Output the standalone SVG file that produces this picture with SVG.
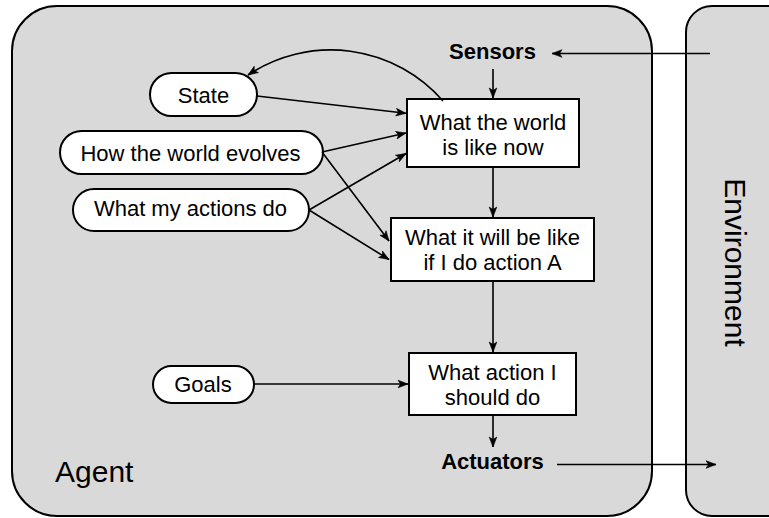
<svg xmlns="http://www.w3.org/2000/svg" width="769" height="518" viewBox="0 0 769 518">
<style>
.frame{fill:#d9d9d9;stroke:#000;stroke-width:2}
.pill,.box{fill:#fff;stroke:#000;stroke-width:2}
.t{font-family:"Liberation Sans",Arial,Helvetica,sans-serif;font-size:22px;fill:#000;text-anchor:middle}
.b{font-weight:bold}
.conn{fill:none;stroke:#000;stroke-width:1.6;marker-end:url(#arr)}
</style>
<defs>
<marker id="arr" viewBox="-11 -5 12 10" refX="0" refY="0" markerWidth="12" markerHeight="10" markerUnits="userSpaceOnUse" orient="auto">
<path d="M0,0 L-10,-3.8 L-7.5,0 L-10,3.8 Z" fill="#000" stroke="#000" stroke-width="0.6" stroke-linejoin="miter"/>
</marker>
</defs>
<g id="agent">
<rect class="frame" x="12" y="6" width="640" height="510" rx="45" ry="45"/>
<text class="t" x="55" y="482" style="font-size:30px;text-anchor:start">Agent</text>
</g>
<g id="environment">
<rect class="frame" x="686" y="6" width="130" height="510" rx="26" ry="26"/>
<text class="t" transform="translate(725,262.5) rotate(90)" x="0" y="0" style="font-size:30px">Environment</text>
</g>
<g id="sensors">
<text class="t b" x="492.5" y="58.5">Sensors</text>
</g>
<g id="actuators">
<text class="t b" x="492.5" y="468.5">Actuators</text>
</g>
<g id="state">
<rect class="pill" x="150" y="73" width="107" height="43" rx="21.5" ry="21.5"/>
<text class="t" x="203.5" y="102.5">State</text>
</g>
<g id="how-world-evolves">
<rect class="pill" x="60" y="131" width="263" height="43" rx="21.5" ry="21.5"/>
<text class="t" x="190.5" y="160.5">How the world evolves</text>
</g>
<g id="what-my-actions-do">
<rect class="pill" x="73" y="189" width="236" height="42" rx="21" ry="21"/>
<text class="t" x="190.5" y="215.5">What my actions do</text>
</g>
<g id="goals">
<rect class="pill" x="153" y="366" width="101" height="37" rx="18.5" ry="18.5"/>
<text class="t" x="203" y="392">Goals</text>
</g>
<g id="world-now">
<rect class="box" x="407" y="99" width="172" height="68"/>
<text class="t" x="493" y="129.5">What the world</text>
<text class="t" x="493" y="154.5">is like now</text>
</g>
<g id="will-be-like">
<rect class="box" x="391" y="218" width="203" height="63"/>
<text class="t" x="492.5" y="245">What it will be like</text>
<text class="t" x="492.5" y="269.5">if I do action A</text>
</g>
<g id="action">
<rect class="box" x="409" y="353" width="167" height="62"/>
<text class="t" x="492.5" y="380">What action I</text>
<text class="t" x="492.5" y="404.5">should do</text>
</g>
<g id="connectors">
<path class="conn" d="M710,53.5 L552,53.5"/>
<path class="conn" d="M493,69 L493,98"/>
<path class="conn" d="M493,167 L493,217"/>
<path class="conn" d="M493,281 L493,352"/>
<path class="conn" d="M493,415 L493,447"/>
<path class="conn" d="M557,464.5 L716,464.5"/>
<path class="conn" d="M443,101 A149,149 0 0 0 248,75"/>
<path class="conn" d="M257,96 L406,113.3"/>
<path class="conn" d="M322,152 L406,133"/>
<path class="conn" d="M322,152 L389,241"/>
<path class="conn" d="M309,210 L406,153.5"/>
<path class="conn" d="M309,210 L389,259.5"/>
<path class="conn" d="M254,384 L408,384"/>
</g>
</svg>
